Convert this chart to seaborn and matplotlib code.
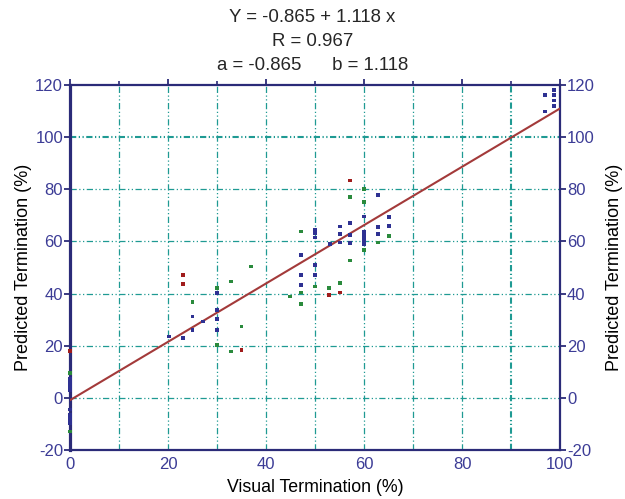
import matplotlib
matplotlib.use("Agg")
import matplotlib.pyplot as plt
import seaborn as sns
import pandas as pd
import numpy as np

# ---- data ----
navy_x = [0, 0, 0, 0, 0, 0, 0, 0,
          20.2, 23.1, 25, 25, 27.1, 30, 30, 30, 30,
          47.2, 47.2, 47.2, 50, 50, 50, 50, 50, 53.1,
          55.1, 55.1, 55.1, 57.1, 57.1, 57.1,
          60, 60, 60, 60, 60, 62.9, 62.9, 62.9, 65.1, 65.1,
          96.9, 96.9, 98.8, 98.8, 98.8, 98.8]
navy_y = [7.5, 6, 4.5, 3, -4.5, -6.5, -8, -9.5,
          23.5, 22.9, 31.2, 26.1, 29.3, 40.2, 33.8, 30.3, 26.1,
          54.9, 47, 43.3, 64.4, 63, 61.5, 51, 47.2, 59.1,
          65.7, 62.9, 59.6, 67, 62.5, 59.3,
          69.5, 63.5, 62, 60.5, 59, 77.9, 65.5, 62.9, 69.3, 66,
          116.2, 109.8, 118, 116, 114, 112]
green_x = [0, 0, 25, 30, 30, 32.9, 32.9, 35, 36.9, 44.9, 47.2, 47.2, 47.2,
           50, 52.9, 55.1, 57.1, 57.1, 60, 60, 60, 62.9, 65.1]
green_y = [9.5, -12.9, 36.7, 42.1, 20.3, 44.6, 17.8, 27.4, 50.4, 38.9, 63.8, 40.4, 36,
           42.7, 42.1, 44, 52.7, 77, 56.8, 75, 80, 59.6, 62.1]
red_x = [0, 23.1, 23.1, 35, 52.9, 55.1, 57.1]
red_y = [18, 47.2, 43.7, 18.4, 39.5, 40.4, 83.3]

intercept = -0.865
slope = 1.118
r_value = 0.967

x_ticks = [0, 20, 40, 60, 80, 100]
y_ticks = [-20, 0, 20, 40, 60, 80, 100, 120]

# ---- build frame ----
df = pd.DataFrame({
    "x": navy_x + green_x + red_x,
    "y": navy_y + green_y + red_y,
    "grp": ["navy"] * len(navy_x) + ["green"] * len(green_x) + ["red"] * len(red_x),
})
palette = {"navy": "#2e3192", "green": "#2a8a3c", "red": "#a01c1c"}

sns.set_theme(style="white")
plt.rcParams["font.family"] = ["Liberation Sans", "DejaVu Sans"]
plt.rcParams["axes.unicode_minus"] = False

fig = plt.figure(figsize=(6.25, 4.99), dpi=100)
ax = fig.add_axes([0.112, 0.098, 0.784, 0.732])

navy_c = "#2b2b78"
label_c = "#3c3c96"
grid_c = "#1f9a93"
dashdot2 = (0, (5, 2, 1, 2, 1, 2))

ax.set_xlim(0, 100)
ax.set_ylim(-20, 120)

# grid
for gx in range(10, 100, 10):
    lw = 1.5 if gx == 90 else 0.9
    ax.axvline(gx, color=grid_c, lw=lw, ls=(0, tuple(d * 0.9 / lw for d in dashdot2[1])), zorder=1)
for gy in range(0, 120, 20):
    lw = 1.5 if gy == 100 else 0.9
    ax.axhline(gy, color=grid_c, lw=lw, ls=(0, tuple(d * 0.9 / lw for d in dashdot2[1])), zorder=1)

# regression line
lx = np.array([0, 100])
ax.plot(lx, intercept + slope * lx, color="#a33a3a", lw=1.5, zorder=3)

sns.scatterplot(data=df, x="x", y="y", hue="grp", palette=palette, marker="s",
                s=7, linewidth=0, legend=False, ax=ax, zorder=5, clip_on=False)

ax.set_xticks(x_ticks)
ax.set_yticks(y_ticks)
ax.set_xticks(range(0, 101, 10), minor=True)
ax.tick_params(axis="both", which="major", direction="out", length=4, width=1.3,
               color=navy_c, labelcolor=label_c, labelsize=12, pad=1)
ax.tick_params(axis="x", which="minor", direction="out", length=3, width=1.2, color=navy_c)
ax.tick_params(axis="x", which="both", top=True)
ax.tick_params(axis="x", which="both", labeltop=False)
ax.set_xlabel("Visual Termination (%)", fontsize=12.8, color="black", labelpad=5)
ax.set_ylabel("Predicted Termination (%)", fontsize=13, color="black", labelpad=2)

for side, sp in ax.spines.items():
    sp.set_color(navy_c)
    sp.set_linewidth(1.6)
    sp.set_visible(True)
    sp.set_zorder(2)
ax.spines["left"].set_linewidth(2.3)

ax2 = ax.twinx()
ax2.set_ylim(-20, 120)
ax2.set_yticks(y_ticks)
ax2.tick_params(axis="y", direction="out", length=4, width=1.3, color=navy_c,
                labelcolor=label_c, labelsize=12, pad=1)
ax2.set_ylabel("Predicted Termination (%)", fontsize=13, color="black", labelpad=8)
ax2.yaxis.label.set_rotation(90)
for sp in ax2.spines.values():
    sp.set_visible(False)

fig.text(0.5, 0.965, f"Y = {intercept} + {slope} x", ha="center", va="center", fontsize=13.4)
fig.text(0.5, 0.917, f"R = {r_value}", ha="center", va="center", fontsize=13.4)
fig.text(0.5, 0.868, f"a = {intercept}      b = {slope}", ha="center", va="center", fontsize=13.4)

fig.savefig("out.png", dpi=100)
